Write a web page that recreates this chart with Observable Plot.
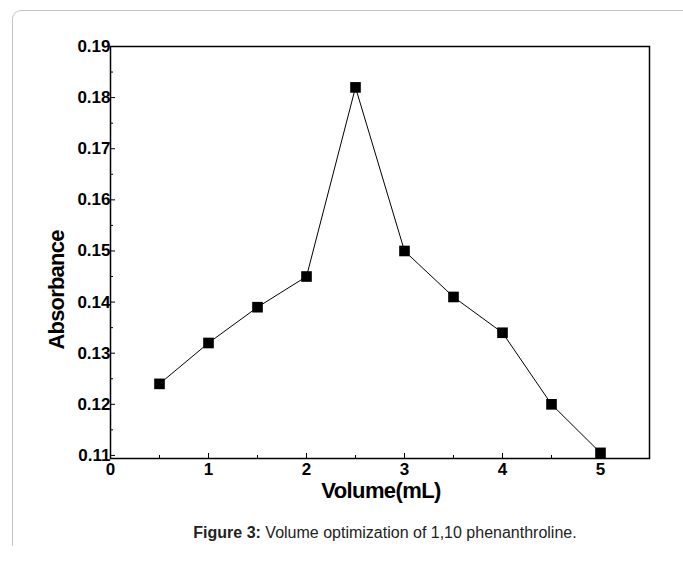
<!DOCTYPE html>
<html>
<head>
<meta charset="utf-8">
<script src="https://cdn.jsdelivr.net/npm/d3@7"></script>
<script src="https://cdn.jsdelivr.net/npm/@observablehq/plot@0.6"></script>
<style>
  html, body { margin: 0; padding: 0; background: #fff; }
  #wrap { position: relative; width: 683px; height: 574px; overflow: hidden; font-family: "Liberation Sans", Arial, sans-serif; }
  #card { position: absolute; left: 12px; top: 10px; width: 720px; height: 535px; border-left: 1px solid #c4c4c4; border-top: 1px solid #c4c4c4; border-top-left-radius: 9px; }
  #chart { position: absolute; left: 0; top: 0; }
  .ylab { position: absolute; left: 57px; top: 290px; transform: translate(-50%, -50%) rotate(-90deg); font-weight: bold; font-size: 22px; letter-spacing: -0.8px; white-space: nowrap; color: #000; }
  .xlab { position: absolute; left: 381px; top: 491px; transform: translate(-50%, -50%); font-weight: bold; font-size: 22px; letter-spacing: -0.6px; white-space: nowrap; color: #000; }
  .cap { position: absolute; left: 385px; top: 533px; transform: translate(-50%, -50%); font-size: 16px; color: #222; white-space: nowrap; }
</style>
</head>
<body>
<div id="wrap">
  <div id="card"></div>
  <div id="chart"></div>
  <div class="ylab">Absorbance</div>
  <div class="xlab">Volume(mL)</div>
  <div class="cap"><b>Figure 3:</b> Volume optimization of 1,10 phenanthroline.</div>
</div>
<script>
const volume = [0.5, 1, 1.5, 2, 2.5, 3, 3.5, 4, 4.5, 5];
const absorbance = [0.124, 0.132, 0.139, 0.145, 0.182, 0.150, 0.141, 0.134, 0.120, 0.1105];
const xTicks = [0, 1, 2, 3, 4, 5];
const xMinorTicks = [0.5, 1.5, 2.5, 3.5, 4.5, 5.5];
const yTicks = [0.11, 0.12, 0.13, 0.14, 0.15, 0.16, 0.17, 0.18, 0.19];
const yMinorTicks = [0.115, 0.125, 0.135, 0.145, 0.155, 0.165, 0.175, 0.185];

const data = volume.map((v, i) => ({v, a: absorbance[i]}));

const chart = Plot.plot({
  width: 683,
  height: 510,
  marginLeft: 110,
  marginRight: 34,
  marginTop: 46,
  marginBottom: 52,
  style: {fontFamily: "'Liberation Sans', Arial, sans-serif", fontSize: "17px", fontWeight: "bold", color: "#000", background: "transparent"},
  x: {domain: [0, 5.5]},
  y: {domain: [0.1094, 0.19]},
  marks: [
    Plot.axisX(xTicks, {tickSize: -5, tickPadding: 9, tickFormat: d => String(d), label: null, fontSize: 17, fontWeight: "bold"}),
    Plot.axisX(xMinorTicks, {tickSize: -3, text: null, label: null}),
    Plot.axisY(yTicks, {tickSize: -5, tickPadding: 5, tickFormat: d => d.toFixed(2), label: null, fontSize: 17, fontWeight: "bold"}),
    Plot.axisY(yMinorTicks, {tickSize: -3, text: null, label: null}),
    Plot.frame({stroke: "#000", strokeWidth: 1.5}),
    Plot.line(data, {x: "v", y: "a", stroke: "#000", strokeWidth: 1}),
    Plot.dot(data, {x: "v", y: "a", symbol: "square", r: 6, fill: "#000", stroke: "none"})
  ]
});
document.getElementById("chart").appendChild(chart);
</script>
</body>
</html>
